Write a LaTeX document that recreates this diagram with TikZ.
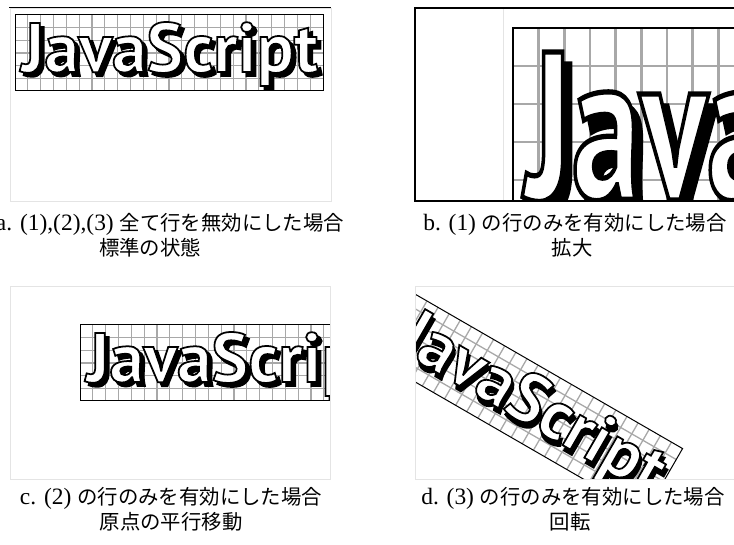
\documentclass[tikz,border=0pt]{standalone}
\usepackage{fontspec}
\setmainfont{Liberation Serif}[Scale=1.15]
\newfontfamily\jp{Noto Sans CJK JP}
\newfontfamily\logofont{PT Sans}
\usetikzlibrary{positioning}
\definecolor{gridgray}{HTML}{A8A8A8}
\definecolor{framegray}{HTML}{E4E4E4}

% letters filled with #1, stroked black (render mode 2), one box of fixed size
\newcommand\logotext[1]{\resizebox{297pt}{50pt}{\fontsize{72}{72}\logofont\bfseries
  \textcolor{#1}{\special{pdf:literal direct 0 G 2 Tr 1.8 w}JavaScript\special{pdf:literal direct 0 Tr}}}}

\begin{document}
\begin{tikzpicture}[
  x=1pt, y=-1pt,
  panel/.style   = {draw=framegray, line width=0.8pt},
  blkline/.style = {draw=black, line width=1.2pt},
  gridln/.style  = {draw=gridgray, line width=1.3pt},
  gridbd/.style  = {draw=black, line width=1pt},
  logo/.style    = {inner sep=0pt, anchor=base west, transform shape},
  captxt/.style  = {font=\fontsize{20.4}{24}\selectfont, inner sep=0pt, anchor=base},
]
\useasboundingbox (0,0) rectangle (734,545);
% one canvas: 24 x 6 grid with the shadowed word on it
\def\jscanvas#1{%
  \foreach \k in {1,...,23} \draw[gridln] ({5+\k*12.833},7) -- ++(0,76);
  \foreach \k in {1,...,5}  \draw[gridln] (5,{7+\k*12.667}) -- ++(308,0);
  \draw[gridbd] (5,7) rectangle (313,83);
  \node[logo] (sh#1) at (15,68) {\logotext{black}};
  \node[logo] (js#1) at (11,64) {\logotext{white}};
}

% a: untouched
\draw[panel] (10,8) rectangle (331,201);
\draw[blkline, line width=1pt] (9,8) -- (331,8);
\begin{scope}[shift={(10,8)}]
  \jscanvas{a}
\end{scope}

% b: scale(2,3)
\begin{scope}
  \clip (415,8) rectangle (734,201);
  \draw[panel] (503,8) rectangle (760,260);
  \begin{scope}[shift={(503,7)}, xscale=2, yscale=3,
                gridln/.append style={line width=2.5pt},
                gridbd/.append style={line width=2.7pt}]
    \jscanvas{b}
  \end{scope}
\end{scope}
\draw[blkline] (740,8) -- (415,8) -- (415,201) -- (740,201);

% c: translate
\begin{scope}
  \clip (10,286) rectangle (330,479);
  \begin{scope}[shift={(75,318)}]
    \jscanvas{c}
  \end{scope}
\end{scope}
\draw[panel] (10,286) rectangle (330,479);

% d: rotate 30
\begin{scope}
  \clip (415,286) rectangle (734,479);
  \begin{scope}[shift={(415,286)}, rotate=-30]
    \jscanvas{d}
  \end{scope}
\end{scope}
\draw[panel] (415,286) rectangle (740,479);

\node[captxt] (capa1) at (170,231) {a. (1),(2),(3) {\jp 全て行を無効にした場合}};
\node[captxt] (capa2) at (150,256) {\jp 標準の状態};
\node[captxt] (capb1) at (575,231) {b. (1) {\jp の行のみを有効にした場合}};
\node[captxt] (capb2) at (572,256) {\jp 拡大};
\node[captxt] (capc1) at (171,504) {c. (2) {\jp の行のみを有効にした場合}};
\node[captxt] (capc2) at (171,529) {\jp 原点の平行移動};
\node[captxt] (capd1) at (573,504) {d. (3) {\jp の行のみを有効にした場合}};
\node[captxt] (capd2) at (570,529) {\jp 回転};
\end{tikzpicture}
\end{document}
